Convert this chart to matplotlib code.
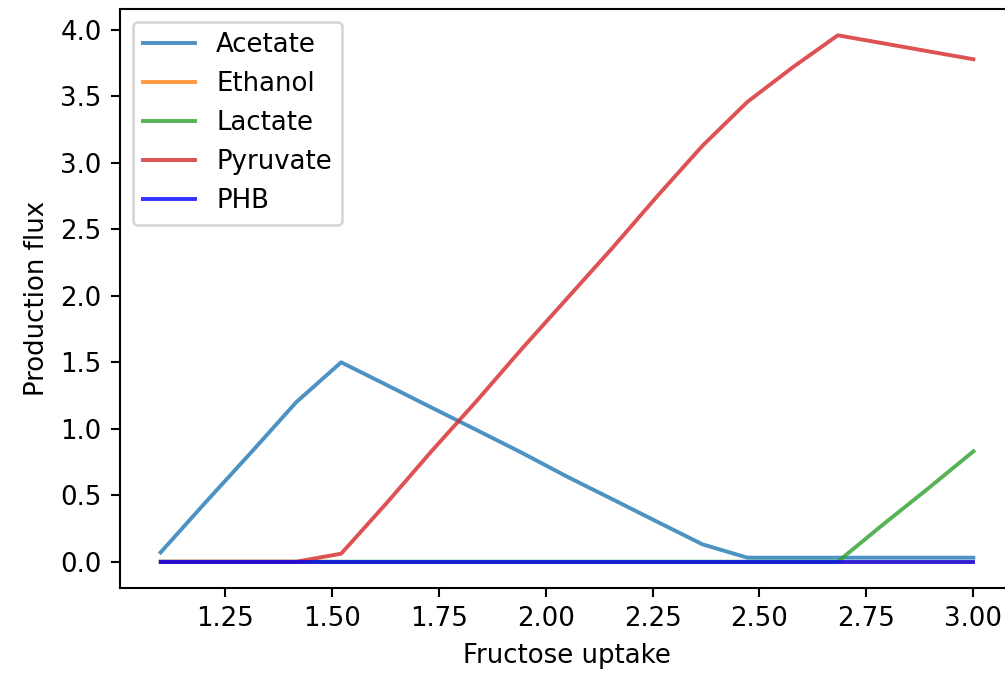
"""Production fluxes of by-products versus fructose uptake."""

import matplotlib

matplotlib.use("Agg")
import matplotlib.pyplot as plt

fructose_uptake = [1.100, 1.206, 1.311, 1.417, 1.522, 1.628, 1.733, 1.839, 1.944, 2.050,
                   2.156, 2.261, 2.367, 2.472, 2.578, 2.683, 2.789, 2.894, 3.000]

acetate = [0.07, 0.45, 0.82, 1.20, 1.50, 1.33, 1.16, 0.99, 0.82, 0.64,
           0.47, 0.30, 0.13, 0.03, 0.03, 0.03, 0.03, 0.03, 0.03]
ethanol = [0.0] * 19
lactate = [0.0, 0.0, 0.0, 0.0, 0.0, 0.0, 0.0, 0.0, 0.0, 0.0,
           0.0, 0.0, 0.0, 0.0, 0.0, 0.0, 0.28, 0.55, 0.83]
pyruvate = [0.0, 0.0, 0.0, 0.0, 0.06, 0.44, 0.83, 1.21, 1.60, 1.98,
            2.36, 2.75, 3.13, 3.46, 3.72, 3.96, 3.90, 3.84, 3.78]
phb = [0.0] * 19

series = [
    ("Acetate", acetate, "tab:blue"),
    ("Ethanol", ethanol, "tab:orange"),
    ("Lactate", lactate, "tab:green"),
    ("Pyruvate", pyruvate, "tab:red"),
    ("PHB", phb, "blue"),
]


def main() -> None:
    dpi = 187
    fig = plt.figure(figsize=(1005 / dpi, 673 / dpi), dpi=dpi)
    ax = fig.add_axes([120 / 1005, 85 / 673, 894 / 1005, 579 / 673])
    for name, values, color in series:
        ax.plot(fructose_uptake, values, color=color, alpha=0.8, linewidth=1.5, label=name)
    ax.set_xlabel("Fructose uptake")
    ax.set_ylabel("Production flux")
    ax.set_xticks([1.25, 1.50, 1.75, 2.00, 2.25, 2.50, 2.75, 3.00])
    ax.legend(loc="upper left")
    fig.savefig("out.png", dpi=dpi)
    plt.close(fig)


if __name__ == "__main__":
    main()
